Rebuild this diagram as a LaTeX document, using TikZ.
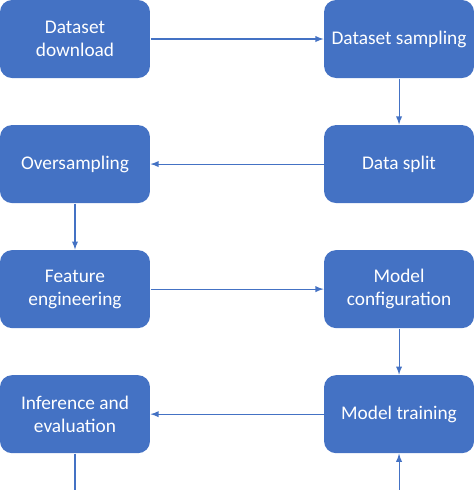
\documentclass[tikz,border=0pt]{standalone}
\usepackage{fontspec}
\setmainfont{Carlito}
\usetikzlibrary{positioning}
\definecolor{boxblue}{RGB}{68,114,196}
\begin{document}
\begin{tikzpicture}[-latex, node distance=0.92cm and 3.46cm, line width=0.6pt, draw=boxblue,
main/.style = {fill=boxblue, draw=none, rounded corners=0.24cm, text=white, align=center,
  minimum width=3cm, minimum height=1.56cm, inner sep=0pt,
  font=\fontsize{11}{13}\selectfont}]
    \useasboundingbox (-1.5,0.78) rectangle (7.98,-9.02);

    \node[main] (1) {Dataset\\download};
    \node[main] (2) [right=of 1] {Dataset sampling};
    \node[main] (3) [below=of 2] {Data split};
    \node[main] (4) [below=of 1] {Oversampling};
    \node[main] (5) [below=of 4] {Feature\\engineering};
    \node[main] (6) [below=of 3] {Model\\configuration};
    \node[main] (7) [below=of 6] {Model training};
    \node[main] (8) [below=of 5] {Inference and\\evaluation};

    \coordinate (9) at (8.south |- 0,-9.02);
    \coordinate (10) at (7.south |- 0,-9.02);

    \draw[boxblue] (1) -- (2);
    \draw[boxblue] (2) -- (3);
    \draw[boxblue] (3) -- (4);
    \draw[boxblue] (4) -- (5);
    \draw[boxblue] (5) -- (6);
    \draw[boxblue] (6) -- (7);
    \draw[boxblue] (7) -- (8);
    \draw[boxblue, -] (8) -- (9);
    \draw[boxblue] (10) -- (7);
\end{tikzpicture}
\end{document}
